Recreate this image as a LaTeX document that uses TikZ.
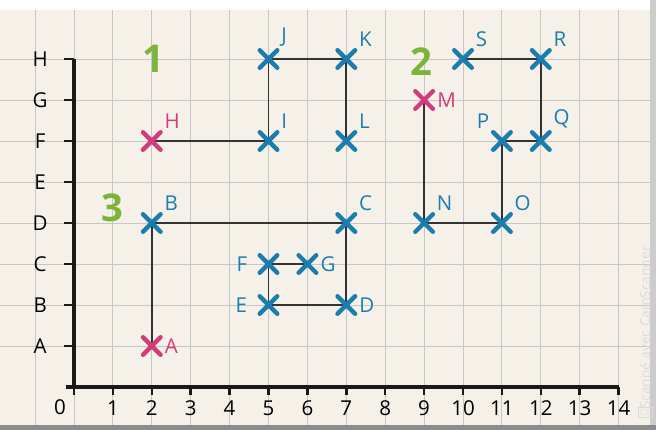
\documentclass[tikz,border=0pt]{standalone}
\usepackage{fontspec}
\setmainfont{Open Sans}
\usetikzlibrary{shapes.misc}

\definecolor{ptblue}{HTML}{1B7DAE}
\definecolor{ptpink}{HTML}{D33C7C}
\definecolor{numgreen}{HTML}{7DB33A}
\definecolor{paper}{HTML}{F5F1E8}

\tikzset{
  croix/.style={cross out, draw=#1, line width=3.2pt, line cap=round, minimum size=0.34cm, inner sep=0pt},
  lbl/.style={font=\fontsize{15}{15}\selectfont},
  bleu/.style={croix=ptblue, label={[lbl, text=ptblue, inner sep=2pt, label distance=1pt]#1}},
  bleug/.style={croix=ptblue, label={[lbl, text=ptblue, inner sep=2pt, label distance=7pt]#1}},
  rose/.style={croix=ptpink, label={[lbl, text=ptpink, inner sep=2pt, label distance=1pt]#1}},
  chemin/.style={line width=1.2pt, black!80},
  axe/.style={line width=2.4pt, black!90},
  numero/.style={font=\fontsize{28}{28}\bfseries, text=numgreen},
}

\begin{document}
\begin{tikzpicture}[x=1cm, y=1.054cm]

    % fond et cadre
    \useasboundingbox (-1.902,-1.049) rectangle (14.961,9.439);
    \fill[white] (-1.902,-1.049) rectangle (14.961,9.439);
    \fill[paper] (-1.902,-0.93) rectangle (14.8,9.2);
    \fill[black!45] (-1.902,-1.049) rectangle (14.961,-0.93);
    \fill[black!20] (14.8,-0.93) rectangle (14.961,9.439);

    % quadrillage
    \foreach \x in {-1,...,14}
        \draw[black!22, line width=0.7pt] (\x,-0.93) -- (\x,9.2);
    \foreach \y in {1,...,8}
        \draw[black!22, line width=0.7pt] (-1.902,\y) -- (14.8,\y);

    % axes
    \draw[axe] (-0.2,0) -- (14,0);
    \draw[axe] (0,0) -- (0,8);
    \foreach \x in {0,...,14}
        \draw[axe, line width=1.8pt] (\x,0) -- (\x,-0.2);
    \foreach \x in {1,...,14}
        \node[lbl] (n\x) at (\x,-0.52) {\x};
    \node[lbl] (n0) at (-0.36,-0.50) {0};
    \foreach \y/\t in {1/A,2/B,3/C,4/D,5/E,6/F,7/G,8/H} {
        \draw[axe, line width=1.8pt] (-0.25,\y) -- (0,\y);
        \node[lbl] (l\t) at (-0.87,\y) {\t};
    }

    % points
    \coordinate (A) at (2,1);
    \coordinate (B) at (2,4);
    \coordinate (C) at (7,4);
    \coordinate (D) at (7,2);
    \coordinate (E) at (5,2);
    \coordinate (F) at (5,3);
    \coordinate (G) at (6,3);
    \coordinate (H) at (2,6);
    \coordinate (I) at (5,6);
    \coordinate (J) at (5,8);
    \coordinate (K) at (7,8);
    \coordinate (L) at (7,6);
    \coordinate (M) at (9,7);
    \coordinate (N) at (9,4);
    \coordinate (O) at (11,4);
    \coordinate (P) at (11,6);
    \coordinate (Q) at (12,6);
    \coordinate (R) at (12,8);
    \coordinate (S) at (10,8);

    % chemins
    \draw[chemin] (A) -- (B) -- (C) -- (D) -- (E) -- (F) -- (G);
    \draw[chemin] (H) -- (I) -- (J) -- (K) -- (L);
    \draw[chemin] (M) -- (N) -- (O) -- (P) -- (Q) -- (R) -- (S);

    % croix
    \node[rose=right:A] (xA) at (A) {};
    \node[bleu=above right:B] (xB) at (B) {};
    \node[bleu=above right:C] (xC) at (C) {};
    \node[bleu=right:D] (xD) at (D) {};
    \node[bleug=left:E] (xE) at (E) {};
    \node[bleug=left:F] (xF) at (F) {};
    \node[bleu=right:G] (xG) at (G) {};
    \node[rose=above right:H] (xH) at (H) {};
    \node[bleu=above right:I] (xI) at (I) {};
    \node[bleu=above right:J] (xJ) at (J) {};
    \node[bleu=above right:K] (xK) at (K) {};
    \node[bleu=above right:L] (xL) at (L) {};
    \node[rose=right:M] (xM) at (M) {};
    \node[bleu=above right:N] (xN) at (N) {};
    \node[bleu=above right:O] (xO) at (O) {};
    \node[bleu=above left:P] (xP) at (P) {};
    \node[bleu=above right:Q] (xQ) at (Q) {};
    \node[bleu=above right:R] (xR) at (R) {};
    \node[bleu=above right:S] (xS) at (S) {};

    % numeros des chemins
    \node[numero] (un) at (2.03,8.0) {1};
    \node[numero] (deux) at (8.92,7.93) {2};
    \node[numero] (trois) at (1.0,4.37) {3};

    % filigrane
    \node[rotate=90, text=black!14, font=\fontsize{10}{10}\selectfont] (scan) at (14.68,1.45) {Scanné avec CamScanner};
    \node[draw=black!14, text=black!14, font=\fontsize{6}{6}\selectfont, inner sep=1.5pt] (cs) at (14.68,-0.62) {CS};

\end{tikzpicture}
\end{document}
